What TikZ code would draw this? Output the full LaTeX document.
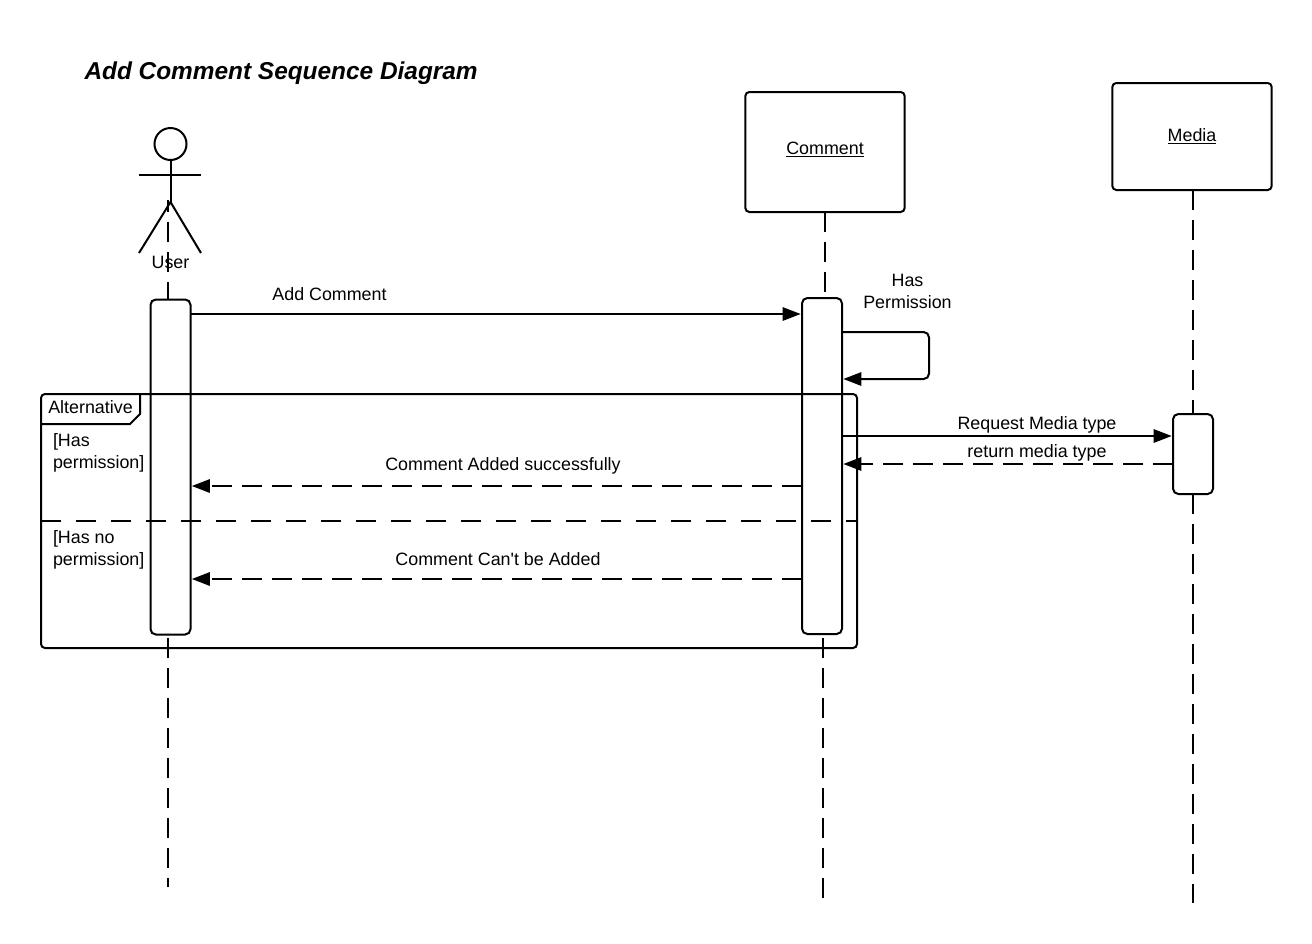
\documentclass[tikz,border=0pt]{standalone}
\usepackage{fontspec}
\setmainfont{Liberation Sans}[Ligatures=TeXOff]
\usetikzlibrary{arrows.meta}

\begin{document}
\begin{tikzpicture}[x=0.75pt,y=-0.75pt,line width=1.5pt,
  label/.style={inner sep=0pt,font=\fontsize{13.4}{16.4}\selectfont},
  guard/.style={label,align=left,anchor=north west},
  objbox/.style={draw,rectangle,rounded corners=3pt,outer sep=0pt,minimum width=119.5pt,font=\fontsize{13.4}{16.4}\selectfont},
  actbox/.style={draw,fill=white,rectangle,rounded corners=4pt,outer sep=0pt,minimum width=30pt},
  lifeline/.style={dash pattern=on 15pt off 7.5pt},
  msg/.style={-{Triangle[length=13.5pt,width=10pt]}},
  reply/.style={msg,dash pattern=on 15pt off 7.5pt}]
\useasboundingbox (0,0) rectangle (1312,943);

\node (title) [anchor=west,inner sep=0pt,font=\fontsize{18.3}{22}\selectfont\bfseries\itshape] at (83.5,73) {Add Comment Sequence Diagram};

\node (boxComment) [objbox,minimum height=90pt,text depth=6pt] at (825,152) {\underline{Comment}};
\node (boxMedia) [objbox,minimum height=80.25pt] at (1192,136.5) {\underline{Media}};

\node (userHead) [draw,circle,outer sep=0pt,inner sep=0pt,minimum size=24pt] at (170.5,144) {};
\coordinate (userHip) at (170.5,202);
\coordinate (userArmL) at (139,174.5);
\coordinate (userArmR) at (201,174.5);
\coordinate (userLegL) at (139,253);
\coordinate (userLegR) at (201,253);
\draw (userHead.south) -- (userHip);
\draw (userArmL) -- (userArmR);
\draw (userLegL) -- (userHip) -- (userLegR);

\coordinate (userTop) at (168,200);
\coordinate (userTail) at (168,638);
\coordinate (userEnd) at (168,887);
\coordinate (commentTop) at (825,212);
\coordinate (commentTail) at (823,638);
\coordinate (commentEnd) at (823,900);
\coordinate (mediaTop) at (1193,190);
\coordinate (mediaTail) at (1193,494);
\coordinate (mediaEnd) at (1193,903);
\draw [lifeline,dash phase=6pt] (userTop) -- (168,300);
\draw [lifeline] (userTail) -- (userEnd);
\draw [lifeline] (commentTop) -- (825,298);
\draw [lifeline] (commentTail) -- (commentEnd);
\draw [lifeline] (mediaTop) -- (1193,414);
\draw [lifeline] (mediaTail) -- (mediaEnd);

\node (actUser) [actbox,minimum height=251.25pt] at (170.5,467) {};
\node (actComment) [actbox,minimum height=252pt] at (822,466) {};
\node (actMedia) [actbox,minimum height=60pt] at (1193,454) {};

\node (frameAlt) [draw,rectangle,rounded corners=3pt,outer sep=0pt,minimum width=612pt,minimum height=190.5pt] at (449,521) {};
\coordinate (tabTop) at (140,394);
\coordinate (tabEdge) at (140,414);
\coordinate (tabCut) at (130,424);
\draw (tabTop) -- (tabEdge) -- (tabCut) -- (frameAlt.west |- tabCut);
\draw [dash pattern=on 15pt off 11.25pt] (frameAlt.west) -- (frameAlt.east);

\draw [msg] (actUser.east |- 0,314) -- ([xshift=-1pt]actComment.west |- 0,314);
\coordinate (selfOut) at (929,332);
\coordinate (selfBack) at (929,379);
\draw [msg,rounded corners=4pt] (actComment.east |- selfOut) -- (selfOut) -- (selfBack) -- ([xshift=1pt]actComment.east |- selfBack);
\draw [msg] (actComment.east |- 0,436) -- ([xshift=-1pt]actMedia.west |- 0,436);
\draw [reply] (actMedia.west |- 0,464) -- ([xshift=1pt]actComment.east |- 0,464);
\draw [reply] (actComment.west |- 0,486) -- ([xshift=1pt]actUser.east |- 0,486);
\draw [reply] (actComment.west |- 0,579) -- ([xshift=1pt]actUser.east |- 0,579);

\node (lblUser) [label] at (170.5,262) {User};
\node (lblAdd) [label] at (329.5,294.5) {Add Comment};
\node (lblPerm) [label,align=center] at (907.5,291.5) {Has\\Permission};
\node (lblAlt) [label] at (90.5,407) {Alternative};
\node (lblHas) [guard] at (52,432.5) {[Has\\permission]};
\node (lblNone) [guard] at (52,529.5) {[Has no\\permission]};
\node (lblOk) [label] at (503,466) {Comment Added successfully};
\node (lblFail) [label] at (498,559) {Comment Can't be Added};
\node (lblReq) [label] at (1037,425) {Request Media type};
\node (lblRet) [label] at (1037,453) {return media type};
\end{tikzpicture}
\end{document}
